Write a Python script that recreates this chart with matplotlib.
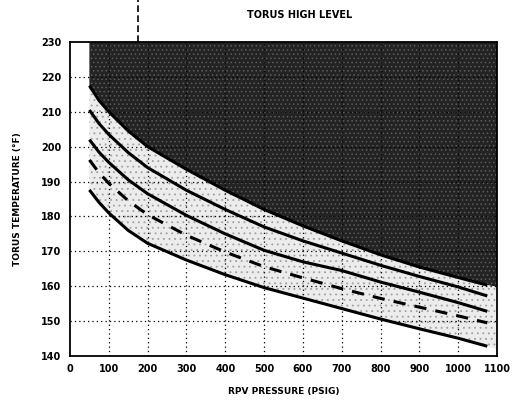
import matplotlib.pyplot as plt
import numpy as np

# RPV pressure (psig) where the curves are tabulated
x_psig = [50, 75, 100, 150, 200, 300, 400, 500, 600, 700, 800, 900, 1000, 1075]

# torus temperature limits (deg F), top curve to bottom curve
c1 = [217.5, 213.2, 210.0, 204.5, 200.0, 193.5, 187.5, 182.0, 177.3, 173.0, 169.0, 165.5, 162.5, 160.3]
c2 = [210.5, 206.6, 203.5, 198.3, 194.0, 187.5, 182.0, 177.0, 173.0, 169.5, 166.0, 162.8, 159.8, 157.2]
c3 = [202.0, 198.4, 195.5, 190.5, 186.5, 180.3, 175.0, 170.3, 167.0, 164.5, 161.2, 158.3, 155.3, 152.8]
c4 = [196.2, 192.5, 189.5, 184.5, 180.5, 174.6, 169.8, 165.6, 162.4, 159.3, 156.5, 154.0, 151.5, 149.5]
c5 = [187.6, 184.0, 181.0, 176.0, 172.3, 167.5, 163.3, 159.6, 156.6, 153.6, 150.6, 147.8, 145.1, 142.8]

# shaded regions run on to the right edge of the plot
edge_x = x_psig + [1100]
dark_floor = c1 + [159.8]
band_floor = c5 + [142.0]

x_ticks = list(range(0, 1101, 100))
y_ticks = list(range(140, 231, 10))
marker_psig = 175

plt.rcParams['font.family'] = 'DejaVu Sans'
plt.rcParams['hatch.linewidth'] = 0.6

fig = plt.figure(figsize=(5.12, 4.07), dpi=100)
ax = fig.add_axes([0.1367, 0.1253, 0.834, 0.7715])

# unsafe region above the top curve, speckled band between the curves
ax.fill_between(edge_x, dark_floor, 230, facecolor='#232323', edgecolor='#5c5c5c',
                hatch='....', linewidth=0, zorder=1)
ax.fill_between(edge_x, band_floor, dark_floor, facecolor='#ececec', edgecolor='#a0a0a0',
                hatch='...', linewidth=0, zorder=1)

for xv in x_ticks[1:-1]:
    ax.axvline(xv, color='black', lw=0.9, ls=(0, (1, 2.5)), zorder=2)
for yv in y_ticks[1:-1]:
    ax.axhline(yv, color='black', lw=0.9, ls=(0, (1, 2.5)), zorder=2)

for yy in (c1, c2, c3, c5):
    ax.plot(x_psig, yy, color='black', lw=2.2, solid_capstyle='butt', zorder=3)
ax.plot(x_psig, c4, color='black', lw=2.2, ls=(0, (4, 3)), zorder=3)

ax.plot([marker_psig, marker_psig], [230, 242], color='black', lw=1.2,
        ls=(0, (4, 2)), clip_on=False, zorder=4)

ax.set_xlim(0, 1100)
ax.set_ylim(140, 230)
ax.set_xticks(x_ticks)
ax.set_yticks(y_ticks)
ax.tick_params(length=0, labelsize=7, pad=6)
for lab in ax.get_xticklabels() + ax.get_yticklabels():
    lab.set_fontweight('bold')
for sp in ax.spines.values():
    sp.set_linewidth(1.3)
    sp.set_color('black')

ax.set_xlabel('RPV PRESSURE (PSIG)', fontsize=6.5, fontweight='bold', labelpad=9)
ax.set_ylabel('TORUS TEMPERATURE (\u00b0F)', fontsize=6.5, fontweight='bold', labelpad=14)
fig.text(0.585, 0.962, 'TORUS HIGH LEVEL', ha='center', va='center',
         fontsize=7, fontweight='bold')

fig.savefig('out.png', dpi=100)
